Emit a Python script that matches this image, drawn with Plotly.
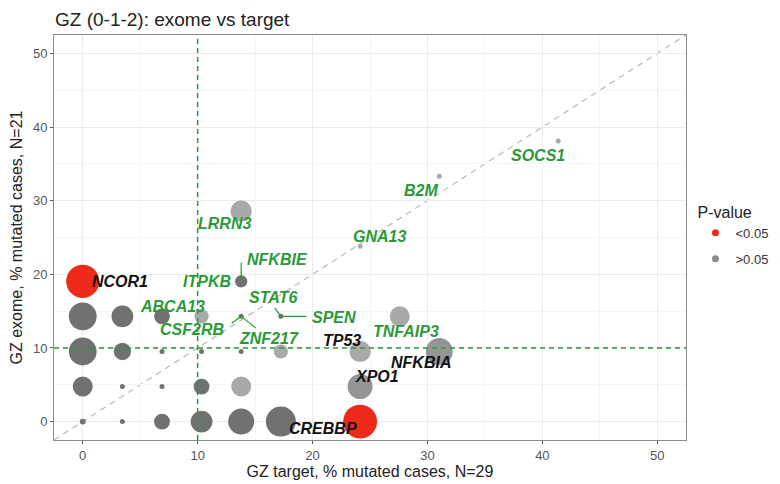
import numpy as np
import plotly.graph_objects as go

# ---------------- data ----------------
target_pct = [0, 0, 3.45, 6.90, 10.34, 0, 3.45, 6.90, 10.34, 13.79, 17.24,
              0, 3.45, 6.90, 10.34, 13.79, 0, 3.45, 6.90, 10.34, 13.79, 17.24,
              24.14, 24.14, 24.14, 27.59, 31.03, 13.79, 13.79, 13.79, 17.24,
              24.14, 31.03, 41.38]
exome_pct = [19.05, 14.29, 14.29, 14.29, 14.29, 9.52, 9.52, 9.52, 9.52, 9.52, 9.52,
             4.76, 4.76, 4.76, 4.76, 4.76, 0, 0, 0, 0, 0, 0,
             0, 4.76, 9.52, 14.29, 9.52, 28.57, 19.05, 14.29, 14.29,
             23.81, 33.33, 38.10]
bubble_value = [44, 31, 19, 10, 8, 31, 12, 1, 1, 1, 8,
                16, 1, 1, 10, 16, 1.4, 1, 10, 19, 27, 36,
                46, 25, 18, 16, 29, 18, 6, 1, 1,
                1, 1, 1]
overlap_count = [1, 3, 3, 3, 1, 3, 3, 3, 3, 3, 1,
                 3, 3, 3, 3, 1, 3, 3, 3, 3, 3, 3,
                 1, 2, 1, 1, 2, 1, 3, 3, 3,
                 1, 1, 1]
p_significant = [True] + [False] * 21 + [True] + [False] * 11

gene_labels = ["NCOR1", "ABCA13", "LRRN3", "ITPKB", "NFKBIE", "CSF2RB", "ZNF217",
               "STAT6", "SPEN", "GNA13", "B2M", "SOCS1", "TP53", "TNFAIP3",
               "NFKBIA", "XPO1", "CREBBP"]
gene_point = [0, 4, 27, 28, 28, 29, 29, 30, 30, 31, 32, 33, 24, 25, 26, 23, 22]
gene_highlight = [False, True, True, True, True, True, True, True, True, True,
                  True, True, False, True, False, False, False]

threshold = 10
axis_ticks = [0, 10, 20, 30, 40, 50]
minor_ticks = [5, 15, 25, 35, 45]
legend_names = ["&lt;0.05", "&gt;0.05"]

# ---------------- styles ----------------
RED = "#ee2a1b"
GREEN = "#2a9a38"
tone_colors = {1: "#a9a9a9", 2: "#959595", 3: "#717171"}
label_offsets = {  # (xshift, yshift) in px
    "NCOR1": (37, 0), "ABCA13": (-29, 10), "LRRN3": (-17, -12), "ITPKB": (-34, 0),
    "NFKBIE": (36, 22), "CSF2RB": (-49, -13), "ZNF217": (28, -22), "STAT6": (-8, 19),
    "SPEN": (53, -1), "GNA13": (19, 10), "B2M": (-18, -14), "SOCS1": (-20, -14),
    "TP53": (-18, 11), "TNFAIP3": (6, -15), "NFKBIA": (-18, -11), "XPO1": (17, 10),
    "CREBBP": (-37, -7),
}
leaders = {"NFKBIE": (0, -20), "CSF2RB": (-11, 8), "ZNF217": (16, 13),
           "STAT6": (-7, -10), "SPEN": (27, 0)}

colors = [RED if s else tone_colors[c] for s, c in zip(p_significant, overlap_count)]
diam = 5 * np.sqrt(np.array(bubble_value, dtype=float))

FONT = "Liberation Sans, Arial, Helvetica, sans-serif"
fig = go.Figure()

lo, hi = -2.5, 52.5
# diagonal reference line
fig.add_shape(type="line", x0=lo, y0=lo, x1=hi, y1=hi, xref="x", yref="y",
              line=dict(color="#bdbdbd", width=1.3, dash="6px,5px"), layer="below")

fig.add_trace(go.Scatter(
    x=target_pct, y=exome_pct, mode="markers",
    marker=dict(size=diam, sizemode="diameter", color=colors, opacity=1,
                line=dict(width=0)),
    showlegend=False, hoverinfo="skip"))

# legend entries
fig.add_trace(go.Scatter(x=[None], y=[None], mode="markers", name=legend_names[0],
                         marker=dict(size=7, color=RED), legendgroup="a"))
fig.add_trace(go.Scatter(x=[None], y=[None], mode="markers", name=legend_names[1],
                         marker=dict(size=7, color="#8a8a8a"), legendgroup="b"))

# threshold lines (above points)
fig.add_shape(type="line", x0=threshold, x1=threshold, y0=0, y1=1, xref="x", yref="paper",
              line=dict(color=GREEN, width=1.5, dash="5px,4px"), layer="above")
fig.add_shape(type="line", y0=threshold, y1=threshold, x0=0, x1=1, yref="y", xref="paper",
              line=dict(color=GREEN, width=1.5, dash="5px,4px"), layer="above")

# leader lines
for g, (ax, ay) in leaders.items():
    i = gene_point[gene_labels.index(g)]
    fig.add_annotation(x=target_pct[i], y=exome_pct[i], text="", showarrow=True,
                       arrowhead=0, arrowwidth=1.2, arrowcolor=GREEN, ax=ax, ay=ay,
                       standoff=0, startstandoff=0)

# gene labels
for g, i, hl in zip(gene_labels, gene_point, gene_highlight):
    xs, ys = label_offsets[g]
    fig.add_annotation(x=target_pct[i], y=exome_pct[i], text=f"<b><i>{g}</i></b>",
                       showarrow=False, xshift=xs, yshift=ys,
                       font=dict(size=16, color=GREEN if hl else "#111111", family=FONT))

axis_common = dict(
    range=[lo, hi], tickvals=axis_ticks, showgrid=True, gridcolor="#ebebeb", gridwidth=1,
    minor=dict(tickvals=minor_ticks, showgrid=True, gridcolor="#f5f5f5", gridwidth=1),
    zeroline=False, showline=True, mirror=True, linecolor="#8c8c8c", linewidth=1,
    ticks="outside", ticklen=3, tickcolor="#555555", tickwidth=1,
    tickfont=dict(size=13, color="#555555", family=FONT), automargin=False,
)
fig.update_xaxes(**axis_common,
                 title=dict(text="GZ target, % mutated cases, N=29",
                            font=dict(size=16, color="#222222", family=FONT), standoff=3))
fig.update_yaxes(**axis_common,
                 title=dict(text="GZ exome, % mutated cases, N=21",
                            font=dict(size=16, color="#222222", family=FONT), standoff=6))

# the page body adds an 8px offset; the plot area is placed to compensate
W, H = 780, 476
fig.update_layout(
    width=W, height=H,
    margin=dict(l=46, r=102, t=27, b=44),
    paper_bgcolor="white", plot_bgcolor="white",
    font=dict(family=FONT, color="#222222"),
    title=dict(text="GZ (0-1-2): exome vs target", x=47 / W, xref="container",
               xanchor="left", y=1 - 11 / H, yref="container", yanchor="middle",
               font=dict(size=19, color="#222222", family=FONT)),
    legend=dict(x=1.015, xanchor="left", y=0.6, yanchor="top",
                title=dict(text="P-value", font=dict(size=16, color="#222222")),
                font=dict(size=13, color="#333333"), traceorder="grouped",
                tracegroupgap=6, bgcolor="rgba(0,0,0,0)"),
)

fig.write_html("out.html")
